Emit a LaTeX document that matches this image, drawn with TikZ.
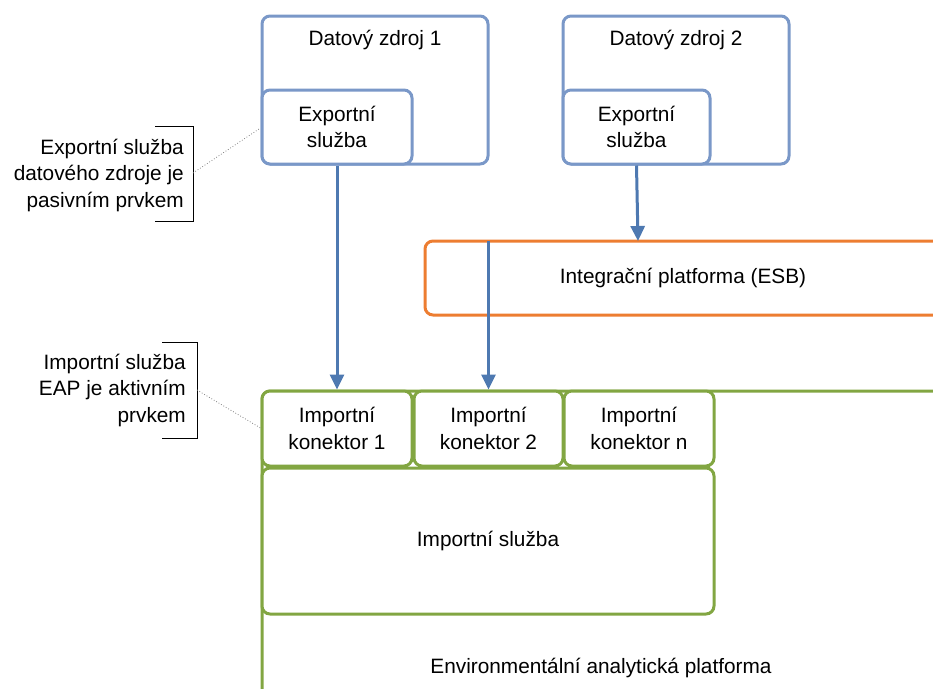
\documentclass[tikz,border=0pt]{standalone}
\usepackage{fontspec}
\setmainfont{Liberation Sans}
\usetikzlibrary{arrows.meta}
\definecolor{boxblue}{RGB}{122,152,200}
\definecolor{arrblue}{RGB}{78,121,177}
\definecolor{esborange}{RGB}{237,125,49}
\definecolor{eapgreen}{RGB}{130,166,66}
\tikzset{
  txt/.style={font=\fontsize{20.8}{26.5}\selectfont, align=center, inner sep=0pt},
  bluebox/.style={draw=boxblue, line width=3pt, rounded corners=8pt, fill=white, inner sep=0pt},
  greenbox/.style={draw=eapgreen, line width=3pt, rounded corners=8pt, fill=white, inner sep=0pt, txt},
  arr/.style={draw=arrblue, line width=3pt, -{Triangle[length=15pt,width=14pt]}},
  bracket/.style={draw=black, line width=0.9pt},
  leader/.style={draw=gray, line width=0.8pt, dotted},
}
\begin{document}
\begin{tikzpicture}[x=1pt,y=-1pt]
\useasboundingbox (0,0) rectangle (933,688);
\clip (0,0) rectangle (933,688);
% outer green platform
\draw[eapgreen, line width=3pt, rounded corners=8pt] (950,391) -- (262,391) -- (262,700);
\node[txt] (eaplbl) at (601,668) {Environmentální analytická platforma};
% ESB
\draw[esborange, line width=3pt, rounded corners=8pt] (950,241) -- (425,241) -- (425,315) -- (950,315);
\node[txt] (esb) at (683,278) {Integrační platforma (ESB)};
\coordinate (esbtop) at (638,241);
\coordinate (esbout) at (488.5,241);
% data sources
\node[bluebox, minimum width=226pt, minimum height=148pt] (ds1) at (375,90) {};
\node[txt] (ds1lbl) at (375,40) {Datový zdroj 1};
\node[bluebox, txt, minimum width=150pt, minimum height=74pt] (exp1) at (337,127) {Exportní\\služba};
\node[bluebox, minimum width=226pt, minimum height=148pt] (ds2) at (676,90) {};
\node[txt] (ds2lbl) at (676,40) {Datový zdroj 2};
\node[bluebox, txt, minimum width=147pt, minimum height=74pt] (exp2) at (636.5,127) {Exportní\\služba};
% connectors
\node[greenbox, minimum width=150pt, minimum height=75pt] (k1) at (337,428.5) {Importní\\konektor 1};
\node[greenbox, minimum width=149pt, minimum height=75pt] (k2) at (488.5,428.5) {Importní\\konektor 2};
\node[greenbox, minimum width=150pt, minimum height=75pt] (kn) at (639,428.5) {Importní\\konektor n};
\node[greenbox, minimum width=452pt, minimum height=146pt] (imp) at (488,541) {Importní služba};
% arrows
\draw[arr] (exp1.south) -- (k1.north);
\draw[arr] (exp2.south) -- (esbtop);
\draw[arr] (esbout) -- (k2.north);
% annotation 1
\node[txt, align=right, anchor=east] (ann1) at (184,175) {Exportní služba\\datového zdroje je\\pasivním prvkem};
\coordinate (b1a) at (155,126);
\coordinate (b1b) at (193,126);
\coordinate (b1c) at (193,221);
\coordinate (b1d) at (155,221);
\draw[bracket] (b1a) -- (b1b) -- (b1c) -- (b1d);
\coordinate (b1m) at (193,173);
\draw[leader] (b1m) -- (exp1.west |- 0,128);
% annotation 2
\node[txt, align=right, anchor=east] (ann2) at (186,390) {Importní služba\\EAP je aktivním\\prvkem};
\coordinate (b2a) at (162,342);
\coordinate (b2b) at (197,342);
\coordinate (b2c) at (197,438);
\coordinate (b2d) at (162,438);
\draw[bracket] (b2a) -- (b2b) -- (b2c) -- (b2d);
\coordinate (b2m) at (197,390);
\draw[leader] (b2m) -- (k1.west |- 0,428);
\end{tikzpicture}
\end{document}
